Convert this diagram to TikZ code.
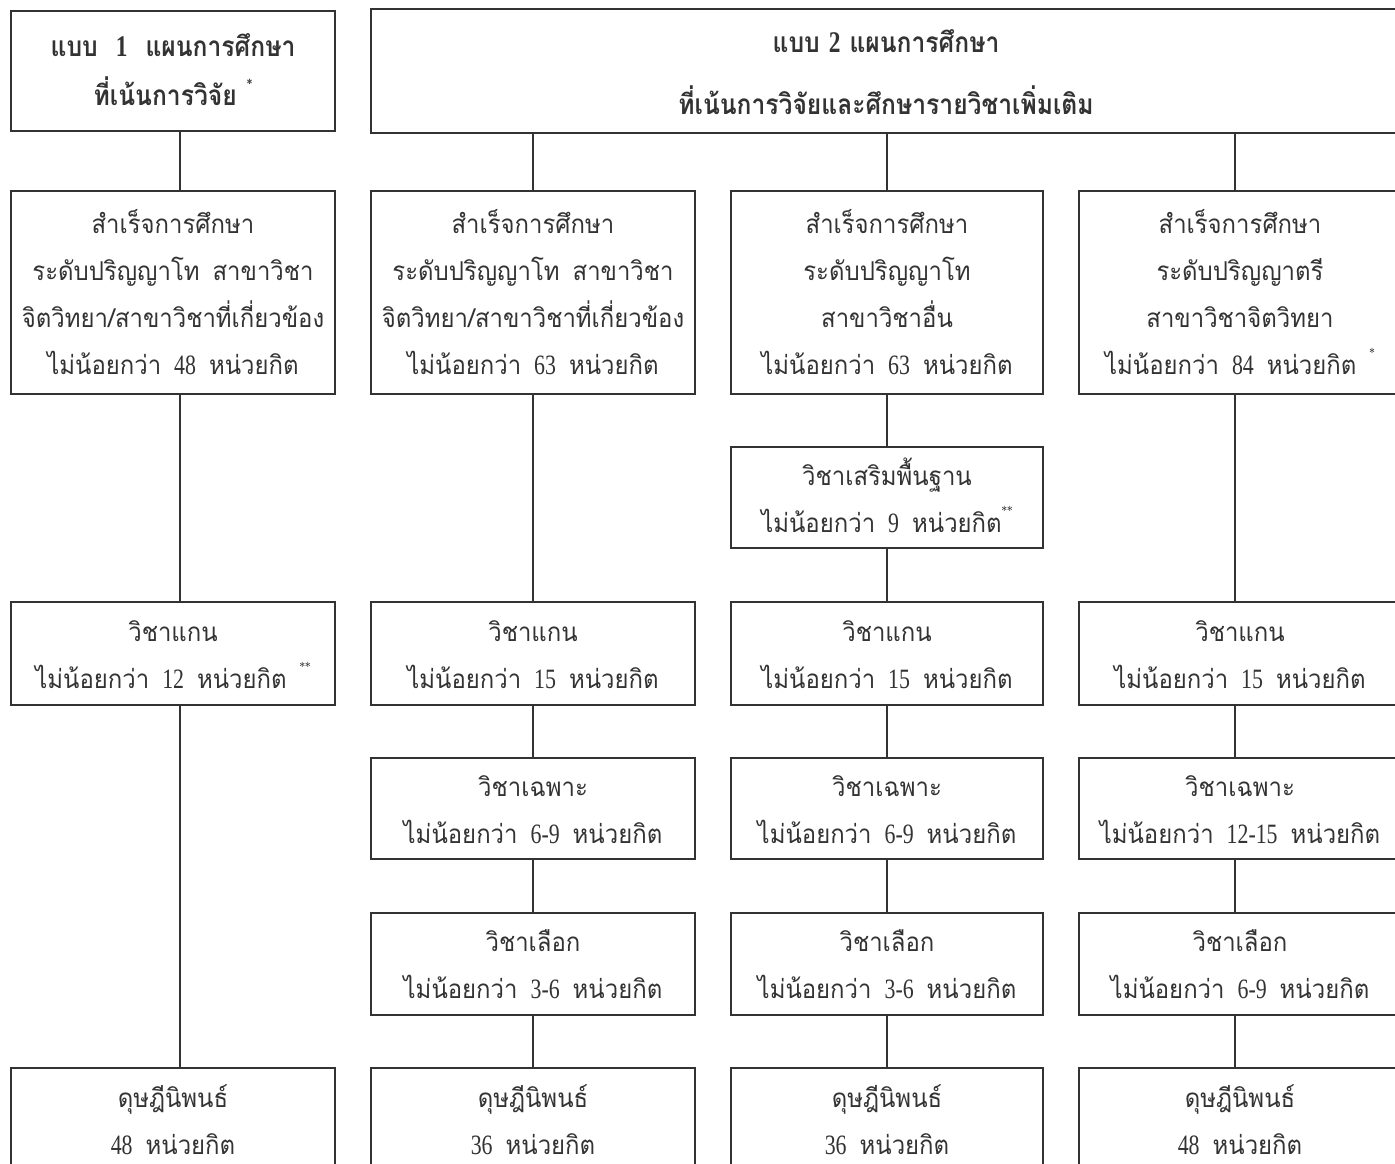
\documentclass[tikz,border=0pt]{standalone}
\usepackage{fontspec}
\newfontfamily\thai[Script=Thai,FakeStretch=0.92]{Loma}
\newfontfamily\thaititle[Script=Thai,FakeStretch=0.88]{Loma}
\newfontfamily\numf[FakeStretch=0.78]{Liberation Serif}
\definecolor{linec}{HTML}{333333}
\definecolor{textc}{HTML}{333333}
\newcommand\nm[1]{{\numf\fontsize{28}{47}\selectfont #1}}
\newcommand\nmb[1]{{\numf\bfseries\fontsize{30}{47}\selectfont #1}}
\newcommand\starmark[1]{\raisebox{17pt}{\numf\fontsize{14}{14}\selectfont #1}}
\newcommand\ls{\rule[-12.5pt]{0pt}{47pt}}
\newcommand\lta{\rule[-14.2pt]{0pt}{49pt}}
\newcommand\ltb{\rule[-18.2pt]{0pt}{62pt}}
\newcommand\bodyfont{\thai\fontsize{26}{47}\selectfont\lineskiplimit=-100pt\lineskip=0pt\spaceskip=13pt}
\newcommand\titlefont{\thaititle\bfseries\fontsize{28}{49}\selectfont\lineskiplimit=-100pt\lineskip=0pt\spaceskip=10pt}
\newcommand\titlebfont{\thaititle\bfseries\fontsize{28}{62}\selectfont\lineskiplimit=-100pt\lineskip=0pt\spaceskip=9pt}
\tikzset{
  box/.style={draw=linec, line width=2.2pt, inner sep=0pt, align=center, font=\bodyfont, text=textc},
  titlebox/.style={box, font=\titlefont},
  titlebbox/.style={box, font=\titlebfont},
  conn/.style={draw=linec, line width=2.2pt},
  wA/.style={minimum width=324pt},
  wB/.style={minimum width=312pt},
  wC/.style={minimum width=322pt},
}
\begin{document}
\begin{tikzpicture}[x=1pt,y=-1pt]
\useasboundingbox (0,0) rectangle (1395,1164);
\clip (0,0) rectangle (1395,1164);
% top row
\node[titlebox, wA, minimum height=120pt] (t1) at (173,71) {\lta แบบ\hspace{8pt} \nmb{1}\hspace{8pt} แผนการศึกษา\\ \lta ที่เน้นการวิจัย \starmark{*}};
\node[titlebbox, minimum width=1030pt, minimum height=120pt] (t2) at (886,71) {\ltb แบบ \nmb{2} แผนการศึกษา\\ \ltb ที่เน้นการวิจัยและศึกษารายวิชาเพิ่มเติม};
% row 2
\node[box, wA, minimum height=203pt] (a2) at (173,292.5) {\ls สำเร็จการศึกษา\\ \ls ระดับปริญญาโท สาขาวิชา\\ \ls จิตวิทยา/สาขาวิชาที่เกี่ยวข้อง\\ \ls ไม่น้อยกว่า \nm{48} หน่วยกิต};
\node[box, wA, minimum height=203pt] (b2) at (533,292.5) {\ls สำเร็จการศึกษา\\ \ls ระดับปริญญาโท สาขาวิชา\\ \ls จิตวิทยา/สาขาวิชาที่เกี่ยวข้อง\\ \ls ไม่น้อยกว่า \nm{63} หน่วยกิต};
\node[box, wB, minimum height=203pt] (c2) at (887,292.5) {\ls สำเร็จการศึกษา\\ \ls ระดับปริญญาโท\\ \ls สาขาวิชาอื่น\\ \ls ไม่น้อยกว่า \nm{63} หน่วยกิต};
\node[box, wC, minimum height=203pt] (d2) at (1240,292.5) {\ls สำเร็จการศึกษา\\ \ls ระดับปริญญาตรี\\ \ls สาขาวิชาจิตวิทยา\\ \ls ไม่น้อยกว่า \nm{84} หน่วยกิต \starmark{*}};
% extra row col 3
\node[box, wB, minimum height=101pt] (cs) at (887,497.5) {\ls วิชาเสริมพื้นฐาน\\ \ls ไม่น้อยกว่า \nm{9} หน่วยกิต\starmark{**}};
% row 3
\node[box, wA, minimum height=103pt] (a3) at (173,653.5) {\ls วิชาแกน\\ \ls ไม่น้อยกว่า \nm{12} หน่วยกิต \starmark{**}};
\node[box, wA, minimum height=103pt] (b3) at (533,653.5) {\ls วิชาแกน\\ \ls ไม่น้อยกว่า \nm{15} หน่วยกิต};
\node[box, wB, minimum height=103pt] (c3) at (887,653.5) {\ls วิชาแกน\\ \ls ไม่น้อยกว่า \nm{15} หน่วยกิต};
\node[box, wC, minimum height=103pt] (d3) at (1240,653.5) {\ls วิชาแกน\\ \ls ไม่น้อยกว่า \nm{15} หน่วยกิต};
% row 4
\node[box, wA, minimum height=101pt] (b4) at (533,808.5) {\ls วิชาเฉพาะ\\ \ls ไม่น้อยกว่า \nm{6-9} หน่วยกิต};
\node[box, wB, minimum height=101pt] (c4) at (887,808.5) {\ls วิชาเฉพาะ\\ \ls ไม่น้อยกว่า \nm{6-9} หน่วยกิต};
\node[box, wC, minimum height=101pt] (d4) at (1240,808.5) {\ls วิชาเฉพาะ\\ \ls ไม่น้อยกว่า \nm{12-15} หน่วยกิต};
% row 5
\node[box, wA, minimum height=102pt] (b5) at (533,964) {\ls วิชาเลือก\\ \ls ไม่น้อยกว่า \nm{3-6} หน่วยกิต};
\node[box, wB, minimum height=102pt] (c5) at (887,964) {\ls วิชาเลือก\\ \ls ไม่น้อยกว่า \nm{3-6} หน่วยกิต};
\node[box, wC, minimum height=102pt] (d5) at (1240,964) {\ls วิชาเลือก\\ \ls ไม่น้อยกว่า \nm{6-9} หน่วยกิต};
% row 6
\node[box, wA, minimum height=103pt] (a6) at (173,1119.5) {\ls ดุษฎีนิพนธ์\\ \ls \nm{48} หน่วยกิต};
\node[box, wA, minimum height=103pt] (b6) at (533,1119.5) {\ls ดุษฎีนิพนธ์\\ \ls \nm{36} หน่วยกิต};
\node[box, wB, minimum height=103pt] (c6) at (887,1119.5) {\ls ดุษฎีนิพนธ์\\ \ls \nm{36} หน่วยกิต};
\node[box, wC, minimum height=103pt] (d6) at (1240,1119.5) {\ls ดุษฎีนิพนธ์\\ \ls \nm{48} หน่วยกิต};
% connector anchors
\coordinate (a2n) at ([xshift=7pt]a2.north);
\coordinate (d2n) at ([xshift=-5pt]d2.north);
% connectors col 1
\draw[conn] (t1.south -| a2n) -- (a2n);
\draw[conn] ([xshift=7pt]a2.south) -- ([xshift=7pt]a3.north);
\draw[conn] ([xshift=7pt]a3.south) -- ([xshift=7pt]a6.north);
% col 2
\draw[conn] (t2.south -| b2.north) -- (b2.north);
\draw[conn] (b2.south) -- (b3.north);
\draw[conn] (b3.south) -- (b4.north);
\draw[conn] (b4.south) -- (b5.north);
\draw[conn] (b5.south) -- (b6.north);
% col 3
\draw[conn] (t2.south -| c2.north) -- (c2.north);
\draw[conn] (c2.south) -- (cs.north);
\draw[conn] (cs.south) -- (c3.north);
\draw[conn] (c3.south) -- (c4.north);
\draw[conn] (c4.south) -- (c5.north);
\draw[conn] (c5.south) -- (c6.north);
% col 4
\draw[conn] (t2.south -| d2n) -- (d2n);
\draw[conn] ([xshift=-5pt]d2.south) -- ([xshift=-5pt]d3.north);
\draw[conn] ([xshift=-5pt]d3.south) -- ([xshift=-5pt]d4.north);
\draw[conn] ([xshift=-5pt]d4.south) -- ([xshift=-5pt]d5.north);
\draw[conn] ([xshift=-5pt]d5.south) -- ([xshift=-5pt]d6.north);
\end{tikzpicture}
\end{document}
